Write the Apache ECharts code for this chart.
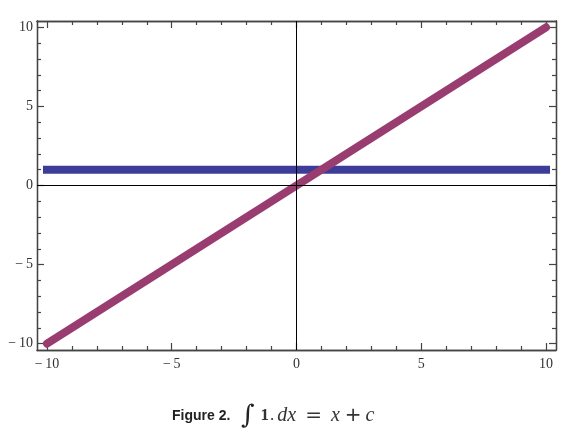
<!DOCTYPE html>
<html>
<head>
<meta charset="utf-8">
<script src="https://cdn.jsdelivr.net/npm/echarts@6/dist/echarts.min.js"></script>
<style>html,body{margin:0;padding:0;background:#fff;}#c{width:577px;height:433px;}</style>
</head>
<body>
<div id="c"></div>
<script>
// ---- data ----
var xValues = [-10, 10];
var constantValues = [1, 1];      // integrand f(x) = 1
var integralValues = [-10, 10];   // x + c  (c = 0)
var majorTicks = [-10, -5, 0, 5, 10];
var minorTicks = [-9, -8, -7, -6, -4, -3, -2, -1, 1, 2, 3, 4, 6, 7, 8, 9];
var axisMin = -10.4, axisMax = 10.4;

function fmt(v) { return v < 0 ? '\u2212\u2009' + Math.abs(v) : String(v); }

var frameColor = '#444';
var labelStyle = { fontFamily: 'Liberation Serif', fontSize: 14, color: '#333', formatter: fmt };

function mkAxis(pos, ticks, len, showLabel, extra) {
  var a = {
    type: 'value', position: pos, min: axisMin, max: axisMax,
    axisLine: { show: true, onZero: false, lineStyle: { color: frameColor, width: 1.3 } },
    axisTick: { show: true, inside: true, length: len, customValues: ticks, lineStyle: { color: frameColor, width: 1.2 } },
    axisLabel: showLabel ? Object.assign({ show: true, customValues: ticks }, labelStyle) : { show: false },
    splitLine: { show: false }
  };
  return Object.assign(a, extra || {});
}

var xAxes = [
  mkAxis('bottom', majorTicks, 7, true, { axisLabel: Object.assign({ show: true, customValues: majorTicks, margin: 7 }, labelStyle) }),
  mkAxis('bottom', minorTicks, 4, false),
  mkAxis('top', majorTicks, 7, false),
  mkAxis('top', minorTicks, 4, false)
];
var yAxes = [
  mkAxis('left', majorTicks, 7, true, { axisLabel: Object.assign({ show: true, customValues: majorTicks, margin: 4 }, labelStyle) }),
  mkAxis('left', minorTicks, 4, false),
  mkAxis('right', majorTicks, 7, false),
  mkAxis('right', minorTicks, 4, false)
];

function pairs(xs, ys) { return xs.map(function (x, i) { return [x, ys[i]]; }); }

var chart = echarts.init(document.getElementById('c'), null, { renderer: 'canvas' });
chart.setOption({
  animation: false,
  backgroundColor: '#fff',
  grid: { left: 37, right: 21, top: 21, bottom: 83, containLabel: false },
  xAxis: xAxes,
  yAxis: yAxes,
  series: [
    {
      type: 'line', data: pairs(xValues, constantValues), showSymbol: false, symbol: 'none',
      lineStyle: { color: '#3d3d99', width: 8, cap: 'square' }, z: 2
    },
    {
      type: 'line', data: pairs(xValues, integralValues), showSymbol: false, symbol: 'none',
      lineStyle: { color: '#993d71', width: 8, cap: 'round' }, z: 3
    },
    {
      type: 'line', data: [], z: 5,
      markLine: {
        silent: true, symbol: 'none', animation: false,
        label: { show: false },
        lineStyle: { color: '#000', width: 1, type: 'solid' },
        data: [{ xAxis: 0 }, { yAxis: 0 }]
      }
    }
  ],
  graphic: [
    {
      type: 'text', left: 172, top: 409,
      style: { text: 'Figure 2.', font: 'bold 14px "Liberation Sans Narrow", "Liberation Sans", sans-serif', fill: '#222' }
    },
    {
      type: 'text', left: 241, top: 403,
      style: {
        text: '{int|\u222B}{one|1}{dot|.}{it|dx}{eq|=}{it|x}{pl|+}{it|c}',
        fill: '#222',
        rich: {
          int: { font: '26px "DejaVu Serif", serif', fill: '#222', padding: [0, 4, 0, 0] },
          one: { font: 'bold 17px "Liberation Serif", serif', fill: '#333', padding: [0, 1, 0, 2] },
          dot: { font: '17px "Liberation Serif", serif', fill: '#333', padding: [0, 3, 0, 0] },
          it: { font: 'italic 20px "Liberation Serif", serif', fill: '#333' },
          eq: { font: '20px "DejaVu Sans", sans-serif', fill: '#333', padding: [0, 9, 0, 9] },
          pl: { font: '20px "DejaVu Sans", sans-serif', fill: '#333', padding: [0, 4, 0, 5] }
        }
      }
    }
  ]
});
</script>
</body>
</html>
